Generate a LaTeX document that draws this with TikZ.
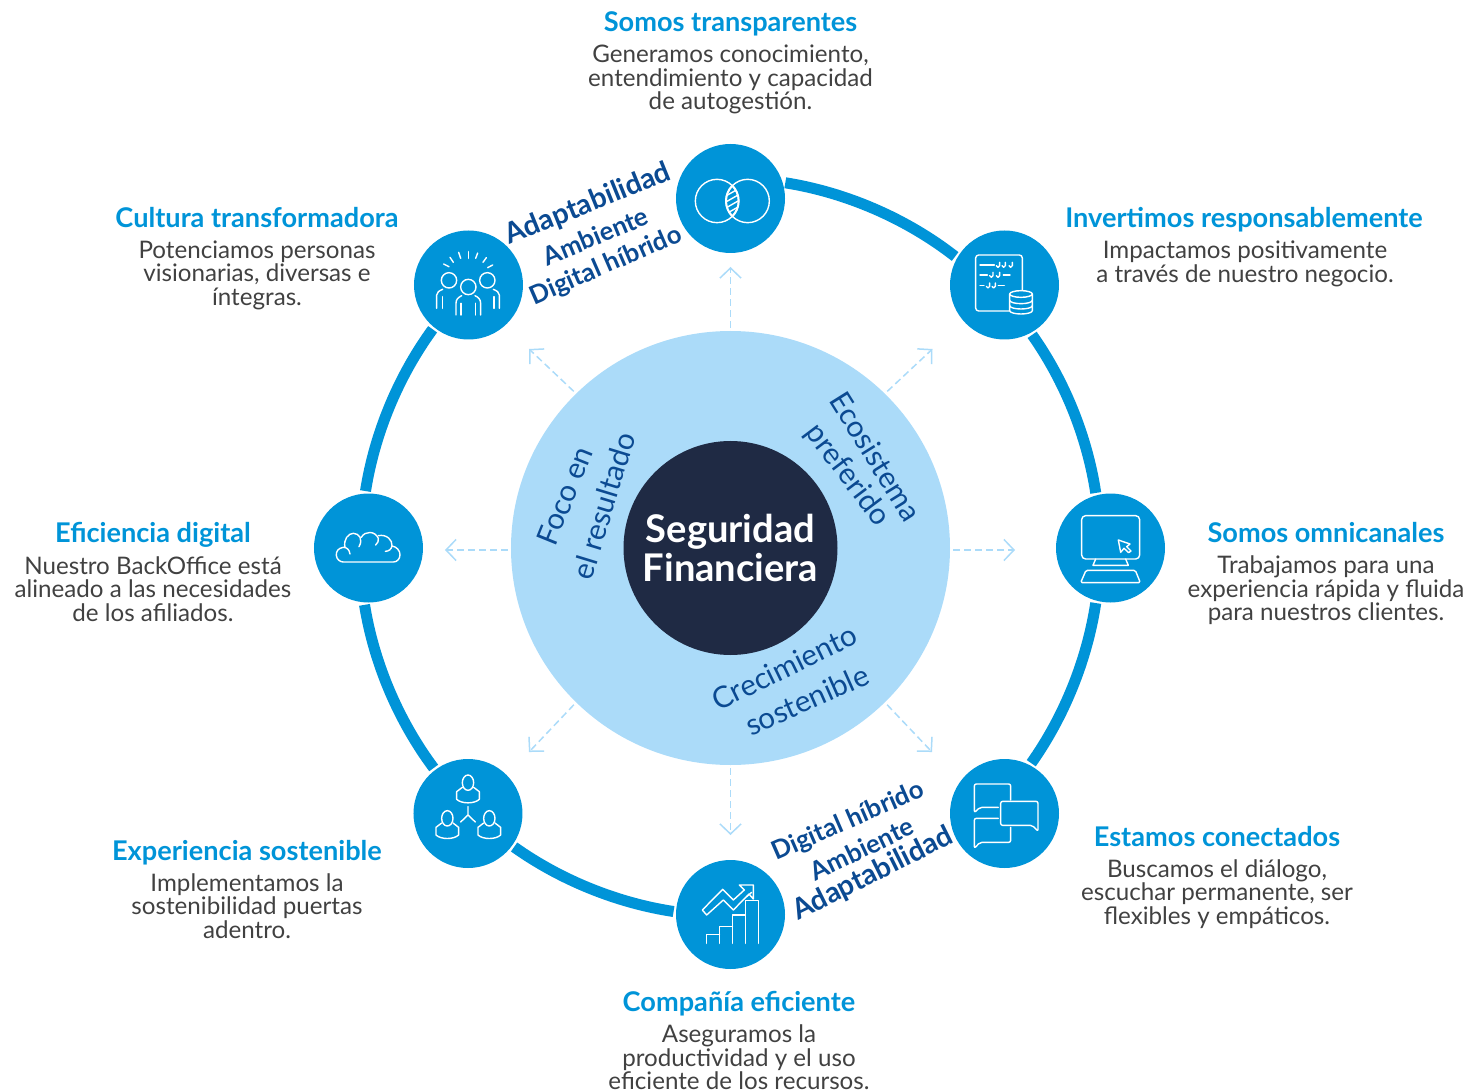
\documentclass[tikz,border=0pt]{standalone}
\usepackage{fontspec}
\setmainfont{Lato}
\usetikzlibrary{arrows.meta,shapes.geometric}

\definecolor{azul}{HTML}{0094D8}
\definecolor{celeste}{HTML}{ABDBF9}
\definecolor{marino}{HTML}{1F2A44}
\definecolor{rey}{HTML}{0B4A92}
\definecolor{gris}{HTML}{414141}

\tikzstyle{icono}= [circle,fill=azul,minimum size=2.18cm,inner sep=0pt,outer sep=0.05cm]
\tikzstyle{titulo}= [font=\bfseries\fontsize{15.45}{17}\selectfont,text=azul,text height=0.3cm,text depth=0.08cm]
\tikzstyle{texto}= [align=center,font=\fontsize{13.75}{13.4}\selectfont,text=gris]
\tikzstyle{pilar}= [font=\fontsize{16.9}{17}\selectfont,text=rey,inner sep=0pt]
\tikzstyle{valor}= [font=\bfseries\fontsize{14.6}{15}\selectfont,text=rey,inner sep=0pt]
\tikzstyle{valorg}= [font=\bfseries\fontsize{16.2}{17}\selectfont,text=rey,inner sep=0pt]
\tikzstyle{anillo}= [azul,line width=0.22cm,looseness=0.85]
\tikzstyle{flecha}= [celeste,line width=0.03cm,dash pattern=on 0.14cm off 0.08cm,-{Straight Barb[length=0.2cm,width=0.42cm,line width=0.03cm]},shorten <=0.06cm]
\tikzstyle{trazo}= [white,line width=0.028cm,line join=round,line cap=round]

\begin{document}
\begin{tikzpicture}
	\useasboundingbox (-14.61,-10.86) rectangle (14.75,10.96);

	\node (disco) at (0,0) [ellipse,fill=celeste,inner sep=0pt,minimum width=8.78cm,minimum height=8.68cm] {};
	\node (nucleo) at (0,0) [circle,fill=marino,minimum size=4.28cm,inner sep=0pt,align=center,text=white,font=\bfseries\fontsize{21.7}{22.2}\selectfont] {Seguridad\\Financiera};

	\node (n) at (0,6.99) [icono] {};
	\node (ne) at (5.48,5.26) [icono] {};
	\node (e) at (7.6,0) [icono] {};
	\node (se) at (5.48,-5.31) [icono] {};
	\node (s) at (0,-7.33) [icono] {};
	\node (so) at (-5.25,-5.31) [icono] {};
	\node (o) at (-7.24,0) [icono] {};
	\node (no) at (-5.24,5.26) [icono] {};

	% anillo
	\path[anillo] (n.16) edge[bend left=14.5] (ne.150);
	\path[anillo] (ne.-61) edge[bend left=13.3] (e.105);
	\path[anillo] (e.-105) edge[bend left=13.3] (se.62);
	\path[anillo] (s.177) edge[bend left=13.4] (so.-36);
	\path[anillo] (so.127) edge[bend left=13.8] (o.-94);
	\path[anillo] (o.93) edge[bend left=13.6] (no.-129);

	% flechas
	\coordinate (fn) at (0,5.62);
	\coordinate (fne) at (4.04,3.98);
	\coordinate (ie) at (4.39,-0.04);
	\coordinate (fe) at (5.69,-0.04);
	\coordinate (fse) at (4.03,-4.08);
	\coordinate (fs) at (0,-5.74);
	\coordinate (fso) at (-4.03,-4.08);
	\coordinate (io) at (-4.39,-0.04);
	\coordinate (fo) at (-5.71,-0.04);
	\coordinate (fno) at (-4.03,3.98);
	\path[flecha] (disco.90) edge (fn);
	\path[flecha] (disco.45) edge (fne);
	\path[flecha] (ie) edge (fe);
	\path[flecha] (disco.-45) edge (fse);
	\path[flecha] (disco.-90) edge (fs);
	\path[flecha] (disco.-135) edge (fso);
	\path[flecha] (io) edge (fo);
	\path[flecha] (disco.135) edge (fno);

	% textos
	\node (tn) at (0,10.43) [titulo] {Somos transparentes};
	\node (cn) at (0,9.37) [texto] {Generamos conocimiento,\\entendimiento y capacidad\\de autogestión.};
	\node (tne) at (10.27,6.51) [titulo] {Invertimos responsablemente};
	\node (cne) at (10.29,5.68) [texto] {Impactamos positivamente\\a través de nuestro negocio.};
	\node (te) at (11.91,0.23) [titulo] {Somos omnicanales};
	\node (ce) at (11.91,-0.85) [texto] {Trabajamos para una\\experiencia rápida y fluida\\para nuestros clientes.};
	\node (tse) at (9.73,-5.85) [titulo] {Estamos conectados};
	\node (cse) at (9.73,-6.92) [texto] {Buscamos el diálogo,\\escuchar permanente, ser\\flexibles y empáticos.};
	\node (ts) at (0.17,-9.15) [titulo] {Compañía eficiente};
	\node (cs) at (0.17,-10.19) [texto] {Aseguramos la\\productividad y el uso\\eficiente de los recursos.};
	\node (tso) at (-9.67,-6.13) [titulo] {Experiencia sostenible};
	\node (cso) at (-9.67,-7.16) [texto] {Implementamos la\\sostenibilidad puertas\\adentro.};
	\node (to) at (-11.55,0.23) [titulo] {Eficiencia digital};
	\node (co) at (-11.55,-0.82) [texto] {Nuestro BackOffice está\\alineado a las necesidades\\de los afiliados.};
	\node (tno) at (-9.47,6.51) [titulo] {Cultura transformadora};
	\node (cno) at (-9.47,5.46) [texto] {Potenciamos personas\\visionarias, diversas e\\íntegras.};

	% textos girados
	\node (p1) at (162.5:3.48) [pilar,rotate=68] {Foco en};
	\node (p2) at (161.5:2.68) [pilar,rotate=73] {el resultado};
	\node (p3) at (32.2:3.44) [pilar,rotate=-58] {Ecosistema};
	\node (p4) at (31.9:2.75) [pilar,rotate=-53] {preferido};
	\node (p5) at (-65.7:2.62) [pilar,rotate=26] {Crecimiento};
	\node (p6) at (-63.3:3.4) [pilar,rotate=24] {sostenible};

	\node (v1) at (112.5:7.44) [valorg,rotate=22] {Adaptabilidad};
	\node (v2) at (113.4:6.8) [valor,rotate=22.5] {Ambiente};
	\node (v3) at (113.8:6.16) [valor,rotate=23.5] {Digital híbrido};
	\node (v4) at (-66.7:5.96) [valor,rotate=23.5] {Digital híbrido};
	\node (v5) at (-66.4:6.56) [valor,rotate=25.6] {Ambiente};
	\node (v6) at (-66.4:7.12) [valorg,rotate=26.5] {Adaptabilidad};

	% iconos
	\begin{scope}[shift={(n)},x=0.00667cm,y=-0.00667cm,shift={(-991.5,-205.5)},trazo]
		\draw (951,213) circle[radius=65];
		\draw (1043,213) circle[radius=65];
		\begin{scope}
			\clip (951,213) circle[radius=65];
			\clip (1043,213) circle[radius=65];
			\foreach \y in {170,188,...,278} \draw (960,\y+20) -- (1030,\y-20);
		\end{scope}
		\begin{scope}
			\clip (951,213) circle[radius=66];
			\draw[line width=0.04cm] (1043,213) circle[radius=65];
		\end{scope}
		\begin{scope}
			\clip (1043,213) circle[radius=66];
			\draw[line width=0.04cm] (951,213) circle[radius=65];
		\end{scope}
	\end{scope}

	\begin{scope}[shift={(no)},x=0.00667cm,y=-0.00667cm,shift={(-205.5,-465)},trazo]
		\draw (205,471) circle[radius=23];
		\draw (147,451) circle[radius=23];
		\draw (262,451) circle[radius=23];
		\draw (168,555) -- (168,520) .. controls (168,508) and (175,502) .. (185,497);
		\draw (242,555) -- (242,520) .. controls (242,508) and (235,502) .. (225,497);
		\draw (183,520) -- (183,555);
		\draw (226,520) -- (226,555);
		\draw (110,535) -- (110,495) .. controls (110,487) and (118,482) .. (128,478);
		\draw (298,535) -- (298,495) .. controls (298,487) and (290,482) .. (280,478);
		\draw (127,500) -- (127,535);
		\draw (282,500) -- (282,535);
		\draw (205,365) -- (205,385);
		\draw (176,367) -- (182,385);
		\draw (150,382) -- (160,397);
		\draw (131,402) -- (147,410);
		\draw (233,369) -- (227,385);
		\draw (259,383) -- (249,397);
		\draw (278,405) -- (263,413);
	\end{scope}

	\begin{scope}[shift={(ne)},x=0.00667cm,y=-0.00667cm,shift={(-223.5,-195)},trazo]
		\draw[rounded corners=0.06cm] (277,210) -- (277,105) -- (137,105) -- (137,273) -- (238,273);
		\draw (150,135) -- (193,135);
		\draw (150,165) -- (172,165);
		\draw (220,165) -- (240,165);
		\draw (150,197) -- (162,197);
		\draw (205,197) -- (223,197);
		\foreach \x/\y in {205/135,222/135,243/135,185/165,205/165,175/197,192/197}
			\draw (\x+4,\y-8) -- (\x+4,\y+2) arc[start angle=0,end angle=180,radius=5];
		\draw (273,222) ellipse[x radius=34,y radius=10];
		\draw (239,222) -- (239,272) arc[start angle=180,end angle=0,x radius=34,y radius=10] -- (307,222);
		\draw (239,241) arc[start angle=180,end angle=0,x radius=34,y radius=10];
		\draw (239,257) arc[start angle=180,end angle=0,x radius=34,y radius=10];
	\end{scope}

	\begin{scope}[shift={(e)},x=0.00667cm,y=-0.00667cm,shift={(-541.5,-984)},trazo]
		\draw[rounded corners=0.08cm] (455,887) rectangle (629,1017);
		\draw (497,1017) -- (489,1036) -- (595,1036) -- (587,1017);
		\draw[rounded corners=0.03cm] (468,1051) -- (616,1051) -- (631,1088) -- (452,1088) -- cycle;
		\draw (565,960) -- (600,972) -- (590,980) -- (603,993) -- (596,998) -- (582,985) -- (572,997) -- cycle;
	\end{scope}

	\begin{scope}[shift={(se)},x=0.00667cm,y=-0.00667cm,shift={(-223.5,-220.5)},trazo]
		\draw[rounded corners=0.04cm] (205,202) -- (150,202) -- (133,218) -- (133,132) -- (242,132) -- (242,180);
		\draw[rounded corners=0.04cm] (212,184) -- (324,184) -- (324,274) -- (307,256) -- (212,256) -- cycle;
		\draw[rounded corners=0.04cm] (205,235) -- (133,235) -- (133,325) -- (150,307) -- (242,307) -- (242,262);
	\end{scope}

	\begin{scope}[shift={(s)},x=0.00667cm,y=-0.00667cm,shift={(-991.5,-493.5)},trazo]
		\draw (919,580) -- (919,554) -- (958,554);
		\draw (958,580) -- (958,530) -- (997,530);
		\draw (997,580) -- (997,495) -- (1036,495);
		\draw (1036,580) -- (1036,452) -- (1075,452) -- (1075,580);
		\draw (907,480) -- (968,418) -- (1000,450) -- (1033,420) -- (1018,405) -- (1060,405) -- (1060,447) -- (1047,432) -- (1000,480) -- (970,450) -- (920,495) -- cycle;
		\draw (1040,440) -- (1055,427);
	\end{scope}

	\begin{scope}[shift={(so)},x=0.00667cm,y=-0.00667cm,shift={(-204,-190.5)},trazo]
		\foreach \dx/\dy in {0/0,-62/107,64/107} {
			\draw (204+\dx,98+\dy) ellipse[x radius=17,y radius=23];
			\draw (187+\dx,112+\dy) -- (170+\dx,125+\dy) -- (170+\dx,148+\dy) .. controls (185+\dx,162+\dy) and (223+\dx,162+\dy) .. (238+\dx,148+\dy) -- (238+\dx,125+\dy) -- (221+\dx,112+\dy);
		}
		\draw (204,170) -- (204,195) -- (182,216);
		\draw (204,195) -- (226,216);
	\end{scope}

	\begin{scope}[shift={(o)},x=0.00667cm,y=-0.00667cm,shift={(-205.5,-204)},trazo]
		\draw (150,222) .. controls (148,208) and (140,202) .. (130,202) .. controls (115,204) and (108,214) .. (109,226) .. controls (110,238) and (120,246) .. (130,246) -- (280,246) .. controls (292,246) and (300,236) .. (300,224) .. controls (300,212) and (290,200) .. (276,198);
		\draw (135,202) .. controls (130,178) and (145,160) .. (160,160) .. controls (178,160) and (190,178) .. (177,200);
		\draw (184,172) .. controls (195,152) and (225,152) .. (235,175) .. controls (237,182) and (233,190) .. (227,195);
		\draw (235,167) .. controls (260,162) and (278,180) .. (276,198) .. controls (274,208) and (266,214) .. (256,214);
	\end{scope}
\end{tikzpicture}
\end{document}
